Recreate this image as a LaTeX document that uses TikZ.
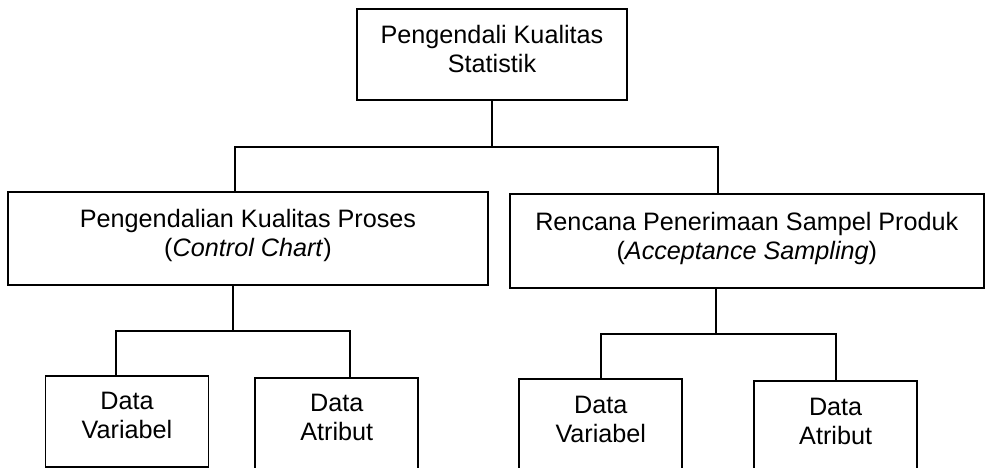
\documentclass[tikz,border=0pt]{standalone}
\usepackage{fontspec}
\setmainfont{Liberation Sans}
\usetikzlibrary{positioning}

\begin{document}
\begin{tikzpicture}[
        node distance=45pt and 10pt,
        % Estilo para las cajas
        kotak/.style={
                rectangle,
                draw=black,
                line width=0.9pt,
                minimum height=45.5pt,
                text depth=5.5pt,
                align=center,
                font=\fontsize{12.6}{14.5}\selectfont
            },
        % Garis penghubung
        garis/.style={
                line width=0.9pt,
                color=black
            }
    ]

    \useasboundingbox (0,0) rectangle (494pt,-233.5pt);

    % PUNCAK (arriba)
    \node[kotak, minimum width=135pt] (statistik) at (246pt,-27.25pt) {Pengendali Kualitas\\Statistik};

    % NIVEL MEDIO
    \node[kotak, minimum width=240pt, minimum height=46.5pt, below=45pt of statistik, xshift=-122pt] (proses) {Pengendalian Kualitas Proses\\(\textit{Control Chart})};
    \node[kotak, minimum width=237pt, minimum height=47pt, right=10pt of proses, yshift=-1.5pt] (sampel) {Rencana Penerimaan Sampel Produk\\(\textit{Acceptance Sampling})};

    % NIVEL INFERIOR (izquierda)
    \node[kotak, minimum width=81.5pt, below=44.5pt of proses, xshift=-60.5pt] (varproses) {Data\\Variabel};
    \node[kotak, minimum width=81.5pt, right=22.5pt of varproses, yshift=-1pt] (atrproses) {Data\\Atribut};

    % NIVEL INFERIOR (derecha)
    \node[kotak, minimum width=81.5pt, below=44.5pt of sampel, xshift=-73pt] (varsampel) {Data\\Variabel};
    \node[kotak, minimum width=81.5pt, right=35pt of varsampel, yshift=-1pt] (atrsampel) {Data\\Atribut};

    % GARIS
    \draw[garis] (statistik.south) -- ++(0,-23pt) coordinate (cabang1);
    \draw[garis] ([xshift=-6.5pt]proses.north) |- (cabang1) -| ([xshift=-14.5pt]sampel.north);

    \draw[garis] ([xshift=-7.5pt]proses.south) -- ++(0,-22.5pt) coordinate (cabang2);
    \draw[garis] ([xshift=-5.5pt]varproses.north) |- (cabang2) -| ([xshift=6.5pt]atrproses.north);

    \draw[garis] ([xshift=-15.5pt]sampel.south) -- ++(0,-22.5pt) coordinate (cabang3);
    \draw[garis] (varsampel.north) |- (cabang3) -| (atrsampel.north);

\end{tikzpicture}
\end{document}
